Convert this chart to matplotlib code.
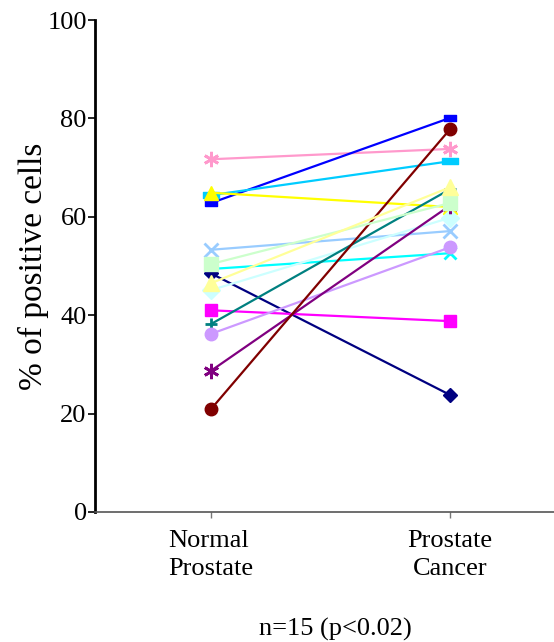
import matplotlib
matplotlib.use('Agg')
import matplotlib.pyplot as plt
from matplotlib.path import Path

plt.rcParams['font.family'] = ['Liberation Serif', 'DejaVu Serif']

groups = ['Normal\nProstate', 'Prostate\nCancer']

# paired values per patient: (normal, cancer)
normal = [71.7, 62.8, 64.4, 64.9, 53.3, 50.4, 49.4, 48.5, 46.5, 45.1, 41.0, 38.2, 36.2, 28.7, 20.9]
cancer = [73.8, 80.1, 71.3, 62.0, 57.1, 62.8, 52.6, 23.8, 66.0, 59.8, 38.8, 65.6, 53.8, 62.3, 77.8]
colors = ['#ff99cc', '#0000ff', '#00ccff', '#ffff00', '#99ccff', '#ccffcc', '#00ffff',
          '#000080', '#ffff99', '#ccffff', '#ff00ff', '#008080', '#cc99ff', '#800080', '#800000']

# small flat bars used as markers by two of the series
small_rect = Path([(-1, -0.6), (1, -0.6), (1, 0.6), (-1, 0.6), (-1, -0.6)],
                  [Path.MOVETO, Path.LINETO, Path.LINETO, Path.LINETO, Path.CLOSEPOLY])
wide_rect = Path([(-1, -0.35), (1, -0.35), (1, 0.35), (-1, 0.35), (-1, -0.35)],
                 [Path.MOVETO, Path.LINETO, Path.LINETO, Path.LINETO, Path.CLOSEPOLY])
markers = [(6, 2, 0), small_rect, wide_rect, '^', 'x', 's', 'x',
           'D', '^', 'D', 's', '+', 'o', (6, 2, 0), 'o']
sizes = [11, 8, 12, 10, 10, 10, 9, 7, 11, 9, 9, 9, 9, 11, 9]
# the pale triangle and square sit on top of their neighbours
front = {5: 4, 8: 5}

fig = plt.figure(figsize=(5.54, 6.42), dpi=100)
ax = fig.add_axes([0.1715, 0.2025, 0.8285, 0.7663])

xs = [1, 2]
for i in range(len(normal)):
    m = markers[i]
    ax.plot(xs, [normal[i], cancer[i]], color=colors[i], lw=1.6,
            marker=m, markersize=sizes[i], markerfacecolor=colors[i],
            markeredgecolor=colors[i], zorder=front.get(i, 2),
            markeredgewidth=2.0 if m in ('x', '+') or isinstance(m, tuple) else 1.0)

ax.set_xlim(0.515, 2.435)
ax.set_ylim(0, 100)
ax.set_yticks([0, 20, 40, 60, 80, 100])
ax.set_xticks(xs)
ax.set_xticklabels(groups, fontsize=19, linespacing=1.33)
ax.get_xticklabels()[0].set_multialignment('left')
ax.tick_params(axis='y', labelsize=19, length=5, width=1.2, pad=1, direction='out')
ax.tick_params(axis='x', length=4, width=1.0, color='#777777', pad=9)
ax.spines['top'].set_visible(False)
ax.spines['right'].set_visible(False)
ax.spines['left'].set_linewidth(2.0)
ax.spines['bottom'].set_linewidth(1.2)
ax.spines['bottom'].set_color('#555555')
ax.set_ylabel('% of positive cells', fontsize=24, labelpad=-1)

fig.text(0.606, 0.020, 'n=15 (p<0.02)', fontsize=19, ha='center', va='center')

fig.savefig('out.png', dpi=100)
